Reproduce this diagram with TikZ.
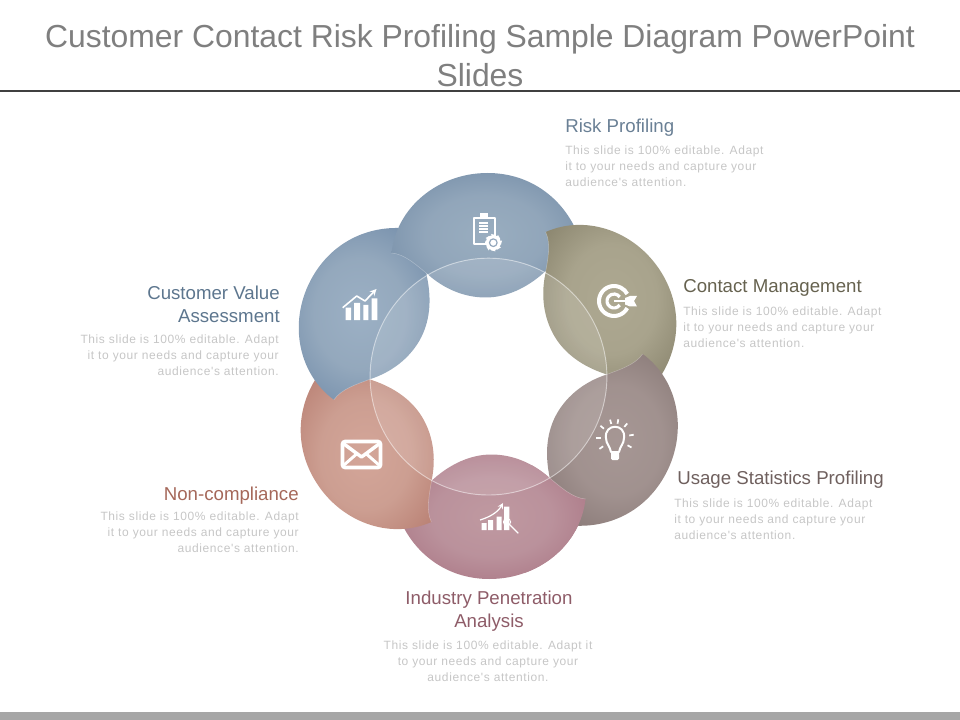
\documentclass[tikz,border=0pt]{standalone}
\usepackage{fontspec}
\setmainfont{Liberation Sans}
\newfontfamily\bodyfont[LetterSpace=5]{Liberation Sans}
\definecolor{titlegray}{HTML}{7F7F7F}
\definecolor{bodygray}{HTML}{C6C6C6}
\definecolor{barcol}{HTML}{A6A6A6}
\definecolor{rulecol}{HTML}{404040}
\definecolor{headblue}{HTML}{6A8095}
\definecolor{headolive}{HTML}{66624F}
\definecolor{headtaupe}{HTML}{6F605E}
\definecolor{headmauve}{HTML}{8E5C68}
\definecolor{headsalmon}{HTML}{A5685A}
\definecolor{headsteel}{HTML}{5D768E}
\pgfdeclareradialshading{shadetop}{\pgfpoint{0bp}{0bp}}{rgb(0bp)=(.60,.68,.75);rgb(16bp)=(.57,.65,.73);rgb(45bp)=(.37,.48,.60)}
\pgfdeclareradialshading{shadeolive}{\pgfpoint{0bp}{0bp}}{rgb(0bp)=(.68,.66,.57);rgb(16bp)=(.66,.64,.55);rgb(45bp)=(.44,.42,.33)}
\pgfdeclareradialshading{shadetaupe}{\pgfpoint{0bp}{0bp}}{rgb(0bp)=(.65,.59,.58);rgb(16bp)=(.63,.57,.56);rgb(45bp)=(.45,.39,.38)}
\pgfdeclareradialshading{shademauve}{\pgfpoint{0bp}{0bp}}{rgb(0bp)=(.75,.60,.63);rgb(16bp)=(.73,.57,.61);rgb(45bp)=(.61,.37,.44)}
\pgfdeclareradialshading{shadesalmon}{\pgfpoint{0bp}{0bp}}{rgb(0bp)=(.83,.65,.60);rgb(16bp)=(.80,.62,.57);rgb(45bp)=(.66,.40,.35)}
\pgfdeclareradialshading{shadeleft}{\pgfpoint{0bp}{0bp}}{rgb(0bp)=(.61,.69,.77);rgb(16bp)=(.58,.66,.74);rgb(45bp)=(.35,.47,.61)}
\tikzset{
 headlbl/.style={font=\fontsize{14}{17.25}\selectfont, inner sep=0pt},
 bodylbl/.style={font=\fontsize{9}{12}\bodyfont, text=bodygray, inner sep=0pt},
 iconline/.style={draw=white, line width=1.6pt, line cap=round, line join=round},
}
% one petal, turned round the middle of the ring
\newcommand{\petal}[3]{
 \begin{scope}[shift={(488.5,377)}, rotate=#1, yshift=-#3*.75pt]
 \shade[shading=#2] (-97,-124) .. controls (-92,-170) and (-50,-204) .. (-1,-204)
  .. controls (38,-204) and (68,-183) .. (84,-154)
  -- (90,-142) .. controls (80,-128) and (68,-114) .. (55,-104)
  .. controls (38,-89) and (18,-79.5) .. (-3,-79.5)
  .. controls (-24,-79.5) and (-44,-88) .. (-60,-102)
  .. controls (-72,-112) and (-84,-123) .. cycle;
 \draw[white, opacity=.3, line width=.4pt] (-60,-102) .. controls (-72,-112) and (-84,-123) .. (-97,-124);
 \end{scope}}
\begin{document}
\begin{tikzpicture}[x=.75pt, y=-.75pt, line join=round, >=stealth]
 \useasboundingbox (0,0) rectangle (960,720);
 \fill[barcol] (0,712) rectangle (960,720);
 \fill[rulecol] (0,90) rectangle (960,92.5);
 \node[font=\fontsize{23.9}{29.25}\selectfont, text=titlegray, align=center, inner sep=0pt] (title) at (480,55.5)
  {Customer Contact Risk Profiling Sample Diagram PowerPoint\\Slides};
 % petals, each one over the one before it
 \petal{180}{shademauve}{2}
 \petal{120}{shadesalmon}{2}
 \petal{60}{shadeleft}{1.5}
 \petal{0}{shadetop}{0}
 \petal{-60}{shadeolive}{2}
 \petal{-120}{shadetaupe}{2}
 \begin{scope}
 \clip (525,465) rectangle (700,600);
 \petal{180}{shademauve}{2}
 \end{scope}
 % the ring
 \fill[white, opacity=.12] (488.5,376.6) circle (118.4);
 \draw[white, opacity=.5, line width=.7pt] (488.5,376.6) circle (118.4);
 % clipboard
 \draw[iconline, line width=1.2pt] (474,218) rectangle (495,244);
 \fill[white] (480,213.5) rectangle (488,218.5);
 \foreach \y in {222,225,228,231} \fill[white] (479,\y) rectangle (488,\y+2);
 \foreach \a in {0,45,...,315} \fill[white] (493.3,242.7) ++(\a-14:9) -- ++(\a+104:4.4) -- (493.3,242.7) -- cycle;
 \fill[white] (493.3,242.7) circle (7.5);
 \draw[color={rgb,1:red,.58;green,.66;blue,.74}, line width=.9pt] (493.3,242.7) circle (3.8);
 % target
 \draw[white, line width=3pt] (614,301) ++(28:15) arc (28:332:15);
 \draw[white, line width=2.4pt] (614,301) ++(35:7) arc (35:325:7);
 \fill[white] (614,299.8) rectangle (630,302.4);
 \fill[white] (625,298) -- (630,296) -- (637,296) -- (634,301) -- (637,306.5) -- (630,306.5) -- (625,304.5) -- cycle;
 % bulb
 \draw[iconline, line width=1.5pt] (611,452) .. controls (610,446) and (606,444) .. (606,438) .. controls (604,423) and (626,423) .. (624,438) .. controls (624,444) and (620,446) .. (619,452) -- cycle;
 \fill[white, rounded corners=1pt] (611,452) rectangle (619,460);
 \foreach \a in {-30,10,50,80,105,140,180,215} \draw[white, line width=1.3pt] (615,438) ++(-\a:14.5) -- ++(-\a:4.5);
 % envelope
 \draw[iconline, line width=2.8pt, rounded corners=2pt] (342.5,441.5) rectangle (380.5,467.5);
 \draw[iconline, line width=2.6pt] (344,444) -- (361.5,457) -- (379,444);
 \draw[iconline, line width=2.2pt] (344,465) -- (356,454.5) (379,465) -- (367,454.5);
 % chart with arrow
 \fill[white] (345.7,307.7) rectangle (351,320) (354,303) rectangle (360,320) (363.3,305) rectangle (368.3,320) (371.7,298.3) rectangle (377.3,320);
 \draw[->, white, line width=1.2pt] (342.7,307.7) -- (356.7,296) -- (365,301) -- (376.5,289);
 % chart with arrow and lens
 \fill[white] (481.7,523) rectangle (486.7,530) (488,520) rectangle (493,530) (496.7,516.7) rectangle (501.7,530) (504,506.7) rectangle (509.3,530);
 \draw[->, white, line width=.9pt] (480,520) .. controls (490,517) and (498,512) .. (503,503);
 \draw[white, line width=.8pt] (508.3,523.3) -- (518.3,533.3);
 \draw[white, line width=.7pt] (507,522) circle (3.6);
 % labels
 \node[headlbl, text=headblue, anchor=west] (riskhead) at (565,128) {Risk Profiling};
 \node[bodylbl, anchor=west, align=left] (riskbody) at (565,166) {This slide is 100\% editable. Adapt\\it to your needs and capture your\\audience's attention.};
 \node[headlbl, text=headolive, anchor=west] (contacthead) at (683,288) {Contact Management};
 \node[bodylbl, anchor=west, align=left] (contactbody) at (683,327) {This slide is 100\% editable. Adapt\\it to your needs and capture your\\audience's attention.};
 \node[headlbl, text=headtaupe, anchor=west] (usagehead) at (677,480) {Usage Statistics Profiling};
 \node[bodylbl, anchor=west, align=left] (usagebody) at (674,519) {This slide is 100\% editable. Adapt\\it to your needs and capture your\\audience's attention.};
 \node[headlbl, text=headmauve, align=center] (industryhead) at (489,611.5) {Industry Penetration\\Analysis};
 \node[bodylbl, align=center] (industrybody) at (488,661) {This slide is 100\% editable. Adapt it\\to your needs and capture your\\audience's attention.};
 \node[headlbl, text=headsalmon, anchor=east] (noncomphead) at (299,496) {Non-compliance};
 \node[bodylbl, anchor=east, align=right] (noncompbody) at (299,532) {This slide is 100\% editable. Adapt\\it to your needs and capture your\\audience's attention.};
 \node[headlbl, text=headsteel, anchor=east, align=right] (valuehead) at (280,304.5) {Customer Value\\Assessment};
 \node[bodylbl, anchor=east, align=right] (valuebody) at (279,355) {This slide is 100\% editable. Adapt\\it to your needs and capture your\\audience's attention.};
\end{tikzpicture}
\end{document}
